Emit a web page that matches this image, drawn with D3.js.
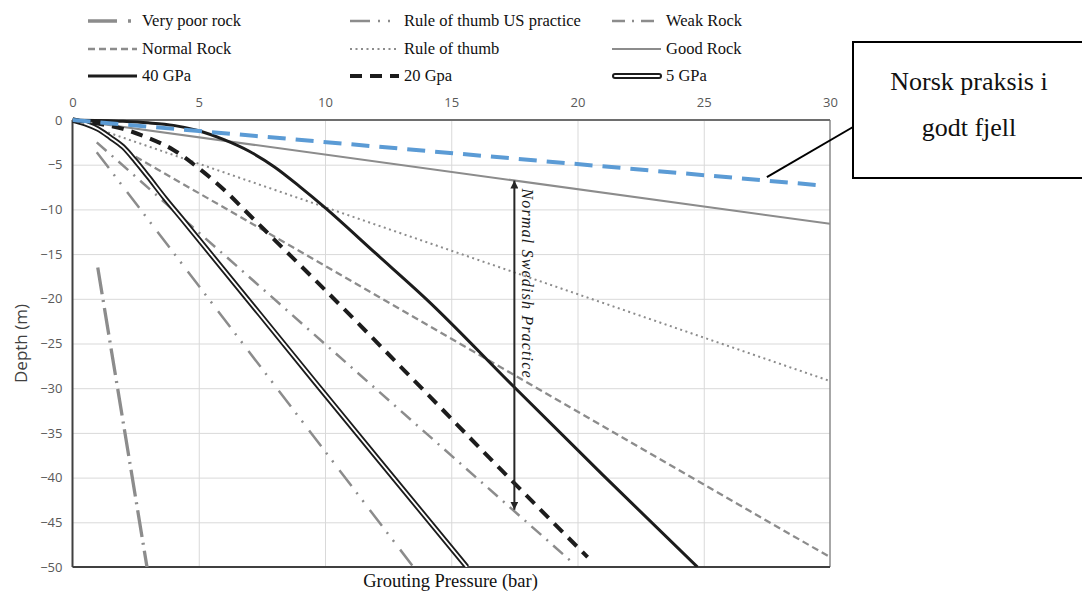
<!DOCTYPE html>
<html lang="en">
<head>
  <meta charset="UTF-8">
  <title>Grouting pressure vs depth</title>
  <script src="https://cdnjs.cloudflare.com/ajax/libs/d3/7.8.5/d3.min.js"></script>
  <style>
    body { margin: 0; background: #fff; }
    .serif { font-family: "Liberation Serif", "Times New Roman", serif; }
  </style>
</head>
<body>
  <script>
// values: [pressure (bar), depth (m)]
var veryPoorRock = [[1.0, -16.5], [2.95, -50]];
var ruleUS = [[0.96, -3.6], [13.5, -50]];
var weakRock = [[0.96, -2.5], [19.8, -49.5]];
var normalRock = [[2.5, -4.1], [30, -48.9]];
var ruleOfThumb = [[1.0, -1.0], [30, -29.2]];
var goodRock = [[0, 0], [30, -11.6]];
var gpa40 = [[0, 0], [2, -0.15], [3, -0.32], [4, -0.6], [5, -1.2], [6, -2.2], [7, -3.5], [8, -5.25],
             [9, -7.45], [10, -9.8], [12, -14.9], [14, -20.0], [17.5, -29.9], [21, -39.7], [24.75, -50]];
var gpa20 = [[0, 0], [1, -0.4], [2, -1.0], [3, -2.0], [4, -3.35], [5, -5.4], [6, -7.8], [7, -10.6],
             [8, -13.4], [10, -19.0], [13.76, -29.8], [17, -39.2], [20.4, -48.9]];
var gpa5 = [[0, 0], [0.5, -0.4], [1, -1.0], [1.5, -1.95], [2, -3.0], [2.5, -4.6], [3, -6.35],
            [3.66, -8.75], [4.32, -11.0], [9.54, -29.1], [12.18, -38.2], [15.62, -50]];
var norsk = [[0, 0], [29.6, -7.3]];

var swedishArrow = {x: 17.5, top: -6.77, bottom: -43.6};
var calloutPoint = [27.5, -6.4];

var xTicks = [0, 5, 10, 15, 20, 25, 30];
var yTicks = [0, -5, -10, -15, -20, -25, -30, -35, -40, -45, -50];

var legendLabels = ["Very poor rock", "Rule of thumb US practice", "Weak Rock",
                    "Normal Rock", "Rule of thumb", "Good Rock",
                    "40 GPa", "20 Gpa", "5 GPa"];

var width = 1082, height = 591;
var plot = {left: 72.5, right: 830, top: 120, bottom: 567};

var grey = "#8c8c8c", black = "#1c1c1c", blue = "#5b9bd5";

// line styles, keyed by legend label
var styles = {
  "Very poor rock": {stroke: grey, width: 3.3, dash: "27,6,2,6", legendDash: "29,11,3,100"},
  "Rule of thumb US practice": {stroke: grey, width: 2.5, dash: "20,8,2,8,2,10"},
  "Weak Rock": {stroke: grey, width: 2.5, dash: "13,7,2,7"},
  "Normal Rock": {stroke: grey, width: 2.3, dash: "7,4"},
  "Rule of thumb": {stroke: grey, width: 2, dash: "2,3.5"},
  "Good Rock": {stroke: grey, width: 2, dash: null},
  "40 GPa": {stroke: black, width: 3, dash: null},
  "20 Gpa": {stroke: black, width: 4, dash: "12,8"},
  "5 GPa": {stroke: black, width: 5.5, dash: null, double: true}
};

var series = [
  {name: "Very poor rock", data: veryPoorRock},
  {name: "Rule of thumb US practice", data: ruleUS},
  {name: "Weak Rock", data: weakRock},
  {name: "Normal Rock", data: normalRock},
  {name: "Rule of thumb", data: ruleOfThumb},
  {name: "Good Rock", data: goodRock},
  {name: "5 GPa", data: gpa5},
  {name: "20 Gpa", data: gpa20},
  {name: "40 GPa", data: gpa40}
];

var svg = d3.select("body").append("svg")
    .attr("width", width)
    .attr("height", height);

var x = d3.scaleLinear().domain([0, 30]).range([plot.left, plot.right]);
var y = d3.scaleLinear().domain([-50, 0]).range([plot.bottom, plot.top]);

// gridlines
svg.append("g")
    .attr("transform", "translate(0," + plot.bottom + ")")
    .call(d3.axisBottom(x).tickValues(xTicks.slice(1, -1)).tickSize(-(plot.bottom - plot.top)).tickFormat(""))
    .call(function(g) { g.select(".domain").remove(); })
    .selectAll("line").attr("stroke", "#d9d9d9");
svg.append("g")
    .attr("transform", "translate(" + plot.left + ",0)")
    .call(d3.axisLeft(y).tickValues(yTicks.slice(1, -1)).tickSize(-(plot.right - plot.left)).tickFormat(""))
    .call(function(g) { g.select(".domain").remove(); })
    .selectAll("line").attr("stroke", "#d9d9d9");

// frame
svg.append("line").attr("x1", x(30)).attr("x2", x(30)).attr("y1", y(0)).attr("y2", y(-50))
    .attr("stroke", "#8a8a8a").attr("stroke-width", 1.5);
svg.append("line").attr("x1", x(0)).attr("x2", x(30)).attr("y1", y(0)).attr("y2", y(0))
    .attr("stroke", "#6e6e6e").attr("stroke-width", 1.8);
svg.append("line").attr("x1", x(0)).attr("x2", x(30)).attr("y1", y(-50)).attr("y2", y(-50))
    .attr("stroke", "#404040").attr("stroke-width", 2);
svg.append("line").attr("x1", x(0)).attr("x2", x(0)).attr("y1", y(0)).attr("y2", y(-50))
    .attr("stroke", "#404040").attr("stroke-width", 2);

// tick labels
var tickFont = function(g) {
  g.select(".domain").remove();
  g.selectAll("text").attr("fill", "#595959")
    .style("font-family", "'Open Sans', sans-serif").style("font-size", "13px");
};
svg.append("g")
    .attr("transform", "translate(0," + plot.top + ")")
    .call(d3.axisTop(x).tickValues(xTicks).tickSize(0).tickPadding(13))
    .call(tickFont);
svg.append("g")
    .attr("transform", "translate(" + plot.left + ",0)")
    .call(d3.axisLeft(y).tickValues(yTicks).tickSize(0).tickPadding(10))
    .call(tickFont);

// axis titles
svg.append("text")
    .attr("transform", "translate(21," + (plot.top + plot.bottom) / 2 + ") rotate(-90)")
    .attr("text-anchor", "middle")
    .attr("dy", "0.35em")
    .style("font-family", "'Open Sans', sans-serif")
    .style("font-size", "17px")
    .attr("fill", "#404040")
    .text("Depth (m)");
svg.append("text")
    .attr("class", "serif")
    .attr("x", 450.5).attr("y", 587)
    .attr("text-anchor", "middle")
    .style("font-size", "18.5px")
    .attr("fill", "#111")
    .text("Grouting Pressure (bar)");

// series
svg.append("clipPath").attr("id", "clip")
  .append("rect").attr("x", plot.left).attr("y", plot.top - 4)
    .attr("width", plot.right - plot.left).attr("height", plot.bottom - plot.top + 4);

var line = d3.line()
    .x(function(d) { return x(d[0]); })
    .y(function(d) { return y(d[1]); })
    .curve(d3.curveMonotoneX);

var lines = svg.append("g").attr("clip-path", "url(#clip)");

series.forEach(function(s) {
  var st = styles[s.name];
  lines.append("path")
      .datum(s.data)
      .attr("d", line)
      .attr("fill", "none")
      .attr("stroke", st.stroke)
      .attr("stroke-width", st.width)
      .attr("stroke-dasharray", st.dash);
  if (st.double) {
    lines.append("path")
        .datum(s.data)
        .attr("d", line)
        .attr("fill", "none")
        .attr("stroke", "#fff")
        .attr("stroke-width", 1.8);
  }
});

lines.append("path")
    .datum(norsk)
    .attr("d", line)
    .attr("fill", "none")
    .attr("stroke", blue)
    .attr("stroke-width", 4)
    .attr("stroke-dasharray", "18,10");

// normal swedish practice arrow
var defs = svg.append("defs");
defs.append("marker")
    .attr("id", "arrow")
    .attr("viewBox", "0 0 10 10")
    .attr("refX", 10).attr("refY", 5)
    .attr("markerWidth", 8).attr("markerHeight", 8)
    .attr("markerUnits", "userSpaceOnUse")
    .attr("orient", "auto-start-reverse")
  .append("path")
    .attr("d", "M0,0L10,5L0,10Z")
    .attr("fill", "#262626");

svg.append("line")
    .attr("x1", x(swedishArrow.x)).attr("x2", x(swedishArrow.x))
    .attr("y1", y(swedishArrow.top)).attr("y2", y(swedishArrow.bottom))
    .attr("stroke", "#262626").attr("stroke-width", 2)
    .attr("marker-start", "url(#arrow)")
    .attr("marker-end", "url(#arrow)");

svg.append("text")
    .attr("class", "serif")
    .attr("transform", "translate(" + (x(swedishArrow.x) + 8) + "," + (y(swedishArrow.top) + 8) + ") rotate(90)")
    .style("font-size", "16px")
    .style("font-style", "italic")
    .attr("fill", "#1a1a1a")
    .attr("textLength", 189)
    .attr("lengthAdjust", "spacing")
    .text("Normal Swedish Practice");

// legend
var legend = svg.append("g");
var colX = [88, 350, 612], rowY = [21, 49, 76];

legendLabels.forEach(function(name, i) {
  var st = styles[name];
  var lx = colX[i % 3], ly = rowY[Math.floor(i / 3)];
  var g = legend.append("g");
  if (st.double) {
    g.append("line").attr("x1", lx + 3).attr("x2", lx + 47).attr("y1", ly).attr("y2", ly)
        .attr("stroke", st.stroke).attr("stroke-width", 6).attr("stroke-linecap", "round");
    g.append("line").attr("x1", lx + 3).attr("x2", lx + 47).attr("y1", ly).attr("y2", ly)
        .attr("stroke", "#fff").attr("stroke-width", 2).attr("stroke-linecap", "round");
  } else {
    g.append("line").attr("x1", lx).attr("x2", lx + 49).attr("y1", ly).attr("y2", ly)
        .attr("stroke", st.stroke).attr("stroke-width", st.width)
        .attr("stroke-dasharray", st.legendDash || st.dash);
  }
  g.append("text")
      .attr("class", "serif")
      .attr("x", lx + 54).attr("y", ly).attr("dy", "0.32em")
      .style("font-size", "16.5px")
      .attr("fill", "#111")
      .text(name);
});

// callout box
svg.append("line")
    .attr("x1", 853).attr("y1", 127)
    .attr("x2", x(calloutPoint[0])).attr("y2", y(calloutPoint[1]))
    .attr("stroke", "#000").attr("stroke-width", 2);
svg.append("rect")
    .attr("x", 853).attr("y", 42).attr("width", 240).attr("height", 136)
    .attr("fill", "#fff").attr("stroke", "#000").attr("stroke-width", 2);
svg.append("text")
    .attr("class", "serif")
    .attr("x", 969).attr("y", 90).attr("text-anchor", "middle")
    .style("font-size", "26px").attr("fill", "#111")
    .text("Norsk praksis i");
svg.append("text")
    .attr("class", "serif")
    .attr("x", 969).attr("y", 136).attr("text-anchor", "middle")
    .style("font-size", "26px").attr("fill", "#111")
    .text("godt fjell");
  </script>
</body>
</html>
